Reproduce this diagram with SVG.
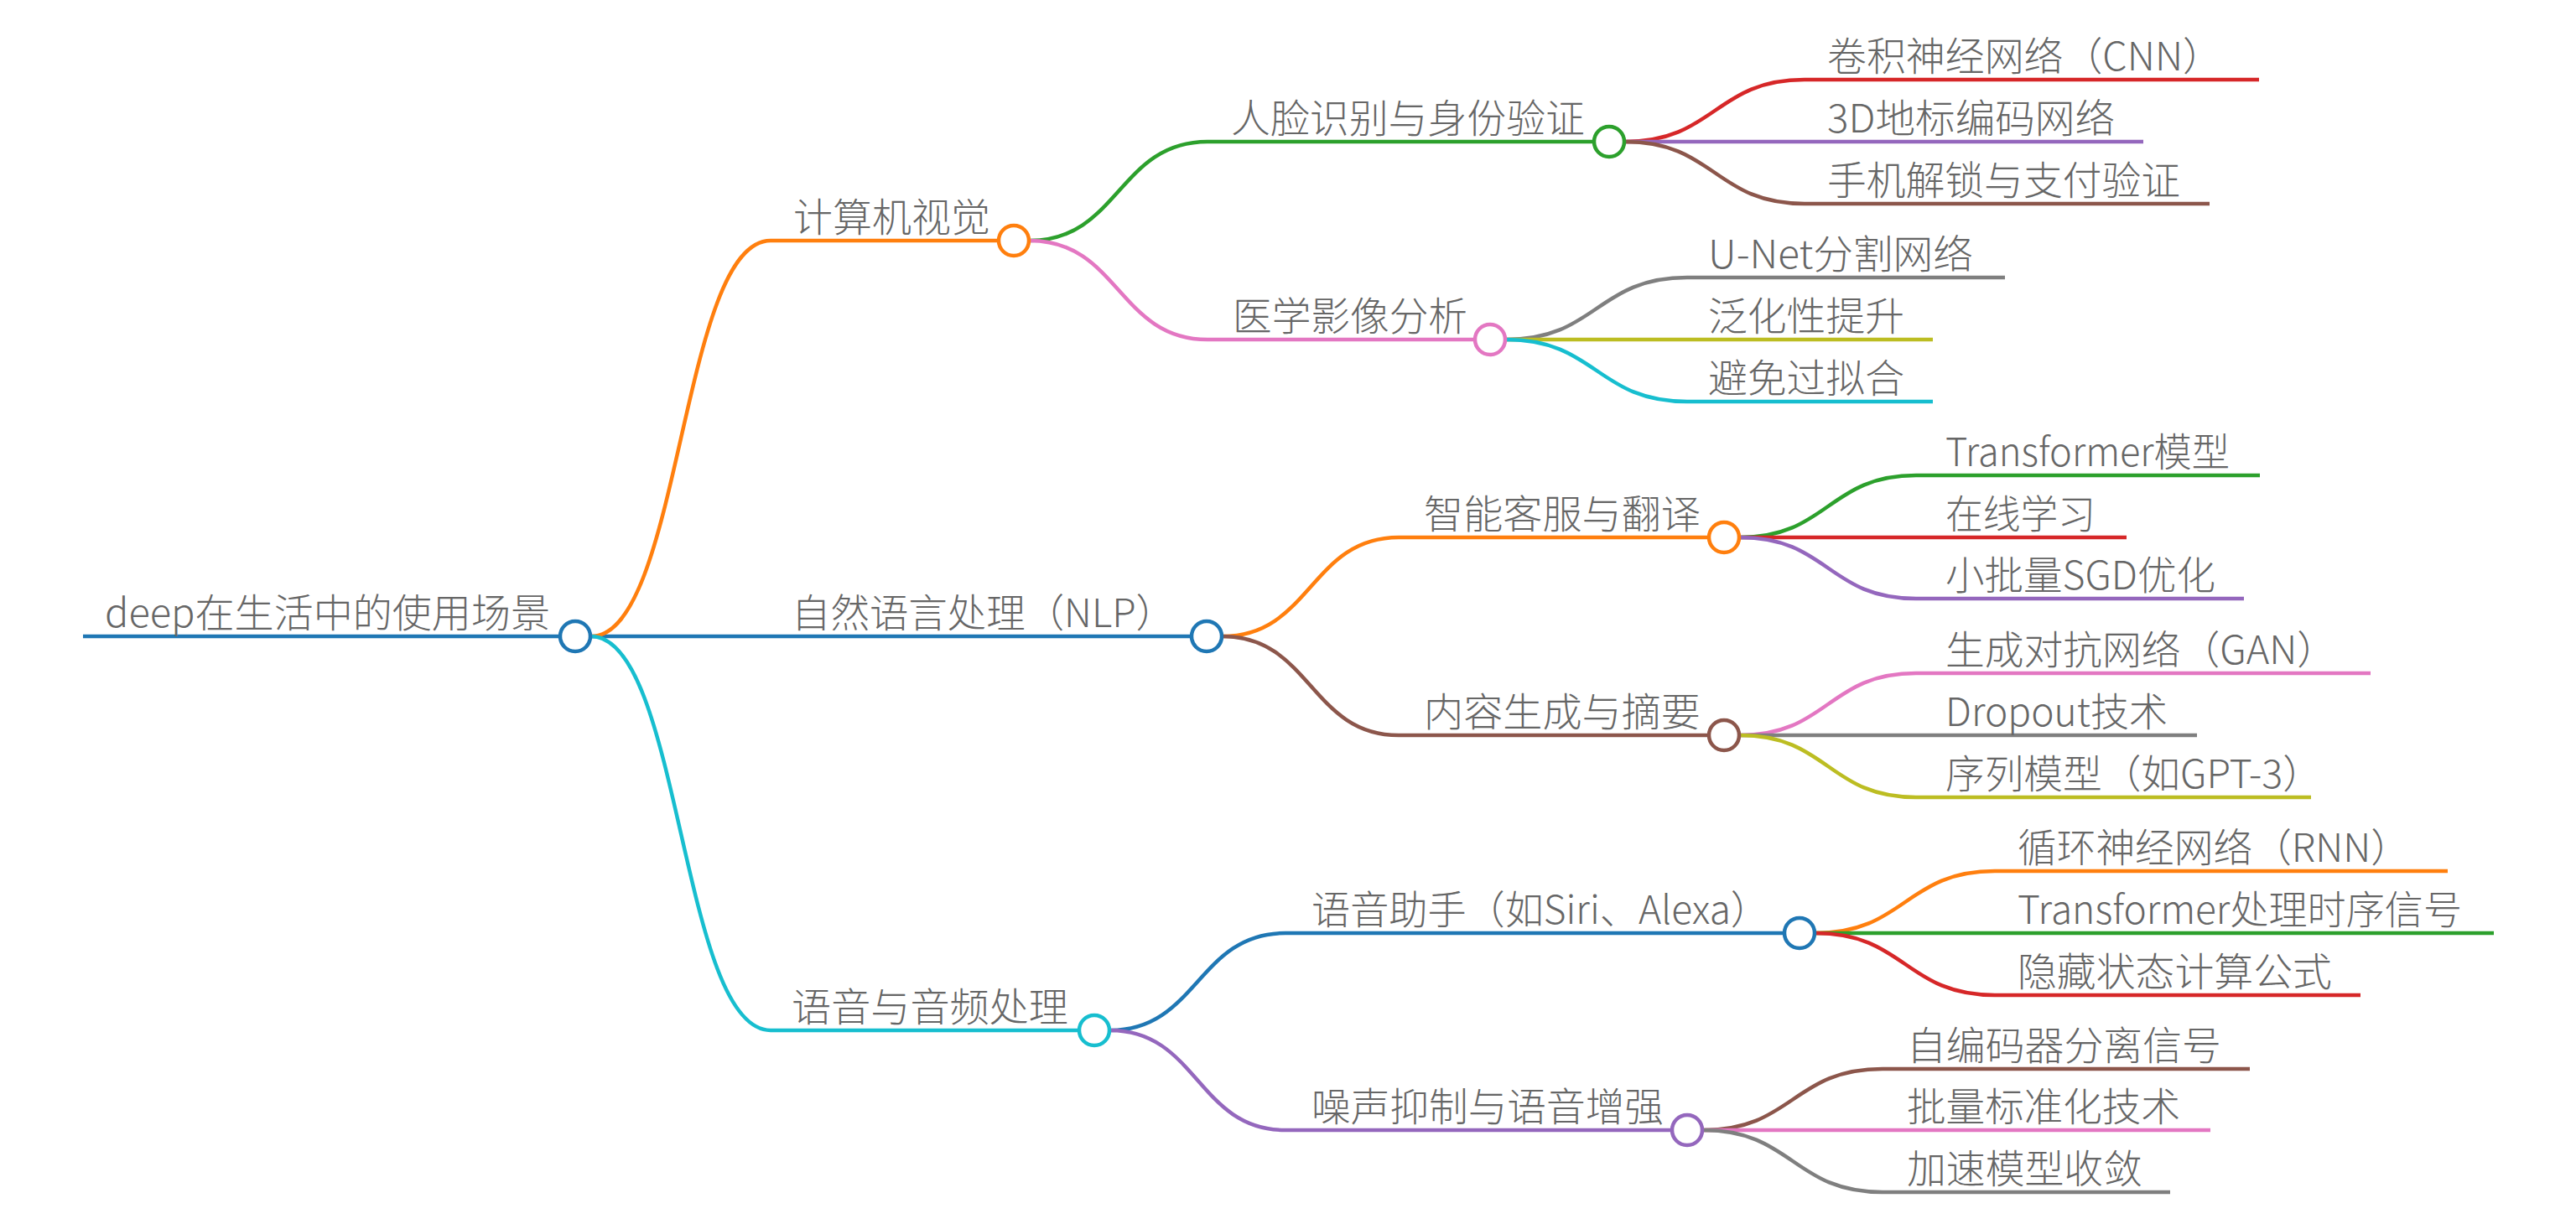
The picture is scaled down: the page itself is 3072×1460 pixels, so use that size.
<svg xmlns="http://www.w3.org/2000/svg" width="3072" height="1460" viewBox="0 0 3072 1460">
<style>
text{font-family:"Noto Sans CJK SC","Noto Sans",sans-serif;font-size:47px;font-weight:300;fill:#666666}
.c{fill:none;stroke-width:4.5;stroke-linecap:butt}
.n{fill:#ffffff;stroke-width:4.5}
</style>
<rect width="3072" height="1460" fill="#ffffff"/>
<g id="connectors">
<path class="c" stroke="#1f77b4" stroke-width="6" d="M99 759H667"/>
<path class="c" stroke="#1f77b4" d="M705 759H1420"/>
<path class="c" stroke="#ff7f0e" d="M705 759C812 759 812 287 919 287H1190"/>
<path class="c" stroke="#17becf" d="M705 759C812 759 812 1229 919 1229H1286"/>
<path class="c" stroke="#2ca02c" d="M1228 287C1334 287 1334 169 1440 169H1900"/>
<path class="c" stroke="#e377c2" d="M1228 287C1334 287 1334 405 1440 405H1758"/>
<path class="c" stroke="#d62728" d="M1938 169C2045 169 2045 95 2152 95H2694"/>
<path class="c" stroke="#9467bd" d="M1938 169H2556"/>
<path class="c" stroke="#8c564b" d="M1938 169C2045 169 2045 243 2152 243H2635"/>
<path class="c" stroke="#7f7f7f" d="M1796 405C1904 405 1904 331 2012 331H2391"/>
<path class="c" stroke="#bcbd22" d="M1796 405H2305"/>
<path class="c" stroke="#17becf" d="M1796 405C1904 405 1904 479 2012 479H2305"/>
<path class="c" stroke="#ff7f0e" d="M1458 759C1563 759 1563 641 1668 641H2037"/>
<path class="c" stroke="#8c564b" d="M1458 759C1563 759 1563 877 1668 877H2037"/>
<path class="c" stroke="#2ca02c" d="M2075 641C2180 641 2180 567 2285 567H2695"/>
<path class="c" stroke="#d62728" d="M2075 641H2536"/>
<path class="c" stroke="#9467bd" d="M2075 641C2180 641 2180 714 2285 714H2676"/>
<path class="c" stroke="#e377c2" d="M2075 877C2180 877 2180 803 2285 803H2827"/>
<path class="c" stroke="#7f7f7f" d="M2075 877H2620"/>
<path class="c" stroke="#bcbd22" d="M2075 877C2180 877 2180 951 2285 951H2756"/>
<path class="c" stroke="#1f77b4" d="M1324 1229C1428 1229 1428 1113 1533 1113H2127"/>
<path class="c" stroke="#9467bd" d="M1324 1229C1428 1229 1428 1348 1533 1348H1993"/>
<path class="c" stroke="#ff7f0e" d="M2165 1113C2272 1113 2272 1039 2379 1039H2919"/>
<path class="c" stroke="#2ca02c" d="M2165 1113H2974"/>
<path class="c" stroke="#d62728" d="M2165 1113C2272 1113 2272 1187 2379 1187H2815"/>
<path class="c" stroke="#8c564b" d="M2031 1348C2138 1348 2138 1275 2245 1275H2683"/>
<path class="c" stroke="#e377c2" d="M2031 1348H2636"/>
<path class="c" stroke="#7f7f7f" d="M2031 1348C2138 1348 2138 1422 2245 1422H2588"/>
</g>
<g id="root"><text x="125" y="748" textLength="531" lengthAdjust="spacingAndGlyphs">deep在生活中的使用场景</text><circle class="n" cx="686" cy="759" r="18" stroke="#1f77b4"/></g>
<g id="cv"><text x="946" y="276" textLength="235" lengthAdjust="spacingAndGlyphs">计算机视觉</text><circle class="n" cx="1209" cy="287" r="18" stroke="#ff7f0e"/></g>
<g id="nlp"><text x="944" y="748" textLength="457" lengthAdjust="spacingAndGlyphs">自然语言处理（NLP）</text><circle class="n" cx="1439" cy="759" r="18" stroke="#1f77b4"/></g>
<g id="speech"><text x="944" y="1218" textLength="330" lengthAdjust="spacingAndGlyphs">语音与音频处理</text><circle class="n" cx="1305" cy="1229" r="18" stroke="#17becf"/></g>
<g id="face"><text x="1468" y="158" textLength="422" lengthAdjust="spacingAndGlyphs">人脸识别与身份验证</text><circle class="n" cx="1919" cy="169" r="18" stroke="#2ca02c"/></g>
<g id="medical"><text x="1470" y="394" textLength="280" lengthAdjust="spacingAndGlyphs">医学影像分析</text><circle class="n" cx="1777" cy="405" r="18" stroke="#e377c2"/></g>
<g id="cnn"><text x="2179" y="84" textLength="471" lengthAdjust="spacingAndGlyphs">卷积神经网络（CNN）</text></g>
<g id="landmark3d"><text x="2179" y="158" textLength="343" lengthAdjust="spacingAndGlyphs">3D地标编码网络</text></g>
<g id="unlock"><text x="2179" y="232" textLength="421" lengthAdjust="spacingAndGlyphs">手机解锁与支付验证</text></g>
<g id="unet"><text x="2037" y="320" textLength="316" lengthAdjust="spacingAndGlyphs">U-Net分割网络</text></g>
<g id="generalize"><text x="2037" y="394" textLength="234" lengthAdjust="spacingAndGlyphs">泛化性提升</text></g>
<g id="overfit"><text x="2037" y="468" textLength="234" lengthAdjust="spacingAndGlyphs">避免过拟合</text></g>
<g id="service"><text x="1698" y="630" textLength="330" lengthAdjust="spacingAndGlyphs">智能客服与翻译</text><circle class="n" cx="2056" cy="641" r="18" stroke="#ff7f0e"/></g>
<g id="content"><text x="1698" y="866" textLength="330" lengthAdjust="spacingAndGlyphs">内容生成与摘要</text><circle class="n" cx="2056" cy="877" r="18" stroke="#8c564b"/></g>
<g id="transformer"><text x="2320" y="556" textLength="339" lengthAdjust="spacingAndGlyphs">Transformer模型</text></g>
<g id="online"><text x="2320" y="630" textLength="179" lengthAdjust="spacingAndGlyphs">在线学习</text></g>
<g id="sgd"><text x="2320" y="703" textLength="322" lengthAdjust="spacingAndGlyphs">小批量SGD优化</text></g>
<g id="gan"><text x="2320" y="792" textLength="466" lengthAdjust="spacingAndGlyphs">生成对抗网络（GAN）</text></g>
<g id="dropout"><text x="2320" y="866" textLength="265" lengthAdjust="spacingAndGlyphs">Dropout技术</text></g>
<g id="seq"><text x="2320" y="940" textLength="449" lengthAdjust="spacingAndGlyphs">序列模型（如GPT-3）</text></g>
<g id="assistant"><text x="1564" y="1102" textLength="546" lengthAdjust="spacingAndGlyphs">语音助手（如Siri、Alexa）</text><circle class="n" cx="2146" cy="1113" r="18" stroke="#1f77b4"/></g>
<g id="noise"><text x="1564" y="1337" textLength="420" lengthAdjust="spacingAndGlyphs">噪声抑制与语音增强</text><circle class="n" cx="2012" cy="1348" r="18" stroke="#9467bd"/></g>
<g id="rnn"><text x="2406" y="1028" textLength="468" lengthAdjust="spacingAndGlyphs">循环神经网络（RNN）</text></g>
<g id="ts"><text x="2406" y="1102" textLength="530" lengthAdjust="spacingAndGlyphs">Transformer处理时序信号</text></g>
<g id="hidden"><text x="2406" y="1176" textLength="375" lengthAdjust="spacingAndGlyphs">隐藏状态计算公式</text></g>
<g id="autoenc"><text x="2274" y="1264" textLength="375" lengthAdjust="spacingAndGlyphs">自编码器分离信号</text></g>
<g id="bn"><text x="2274" y="1337" textLength="326" lengthAdjust="spacingAndGlyphs">批量标准化技术</text></g>
<g id="converge"><text x="2274" y="1411" textLength="281" lengthAdjust="spacingAndGlyphs">加速模型收敛</text></g>
</svg>
